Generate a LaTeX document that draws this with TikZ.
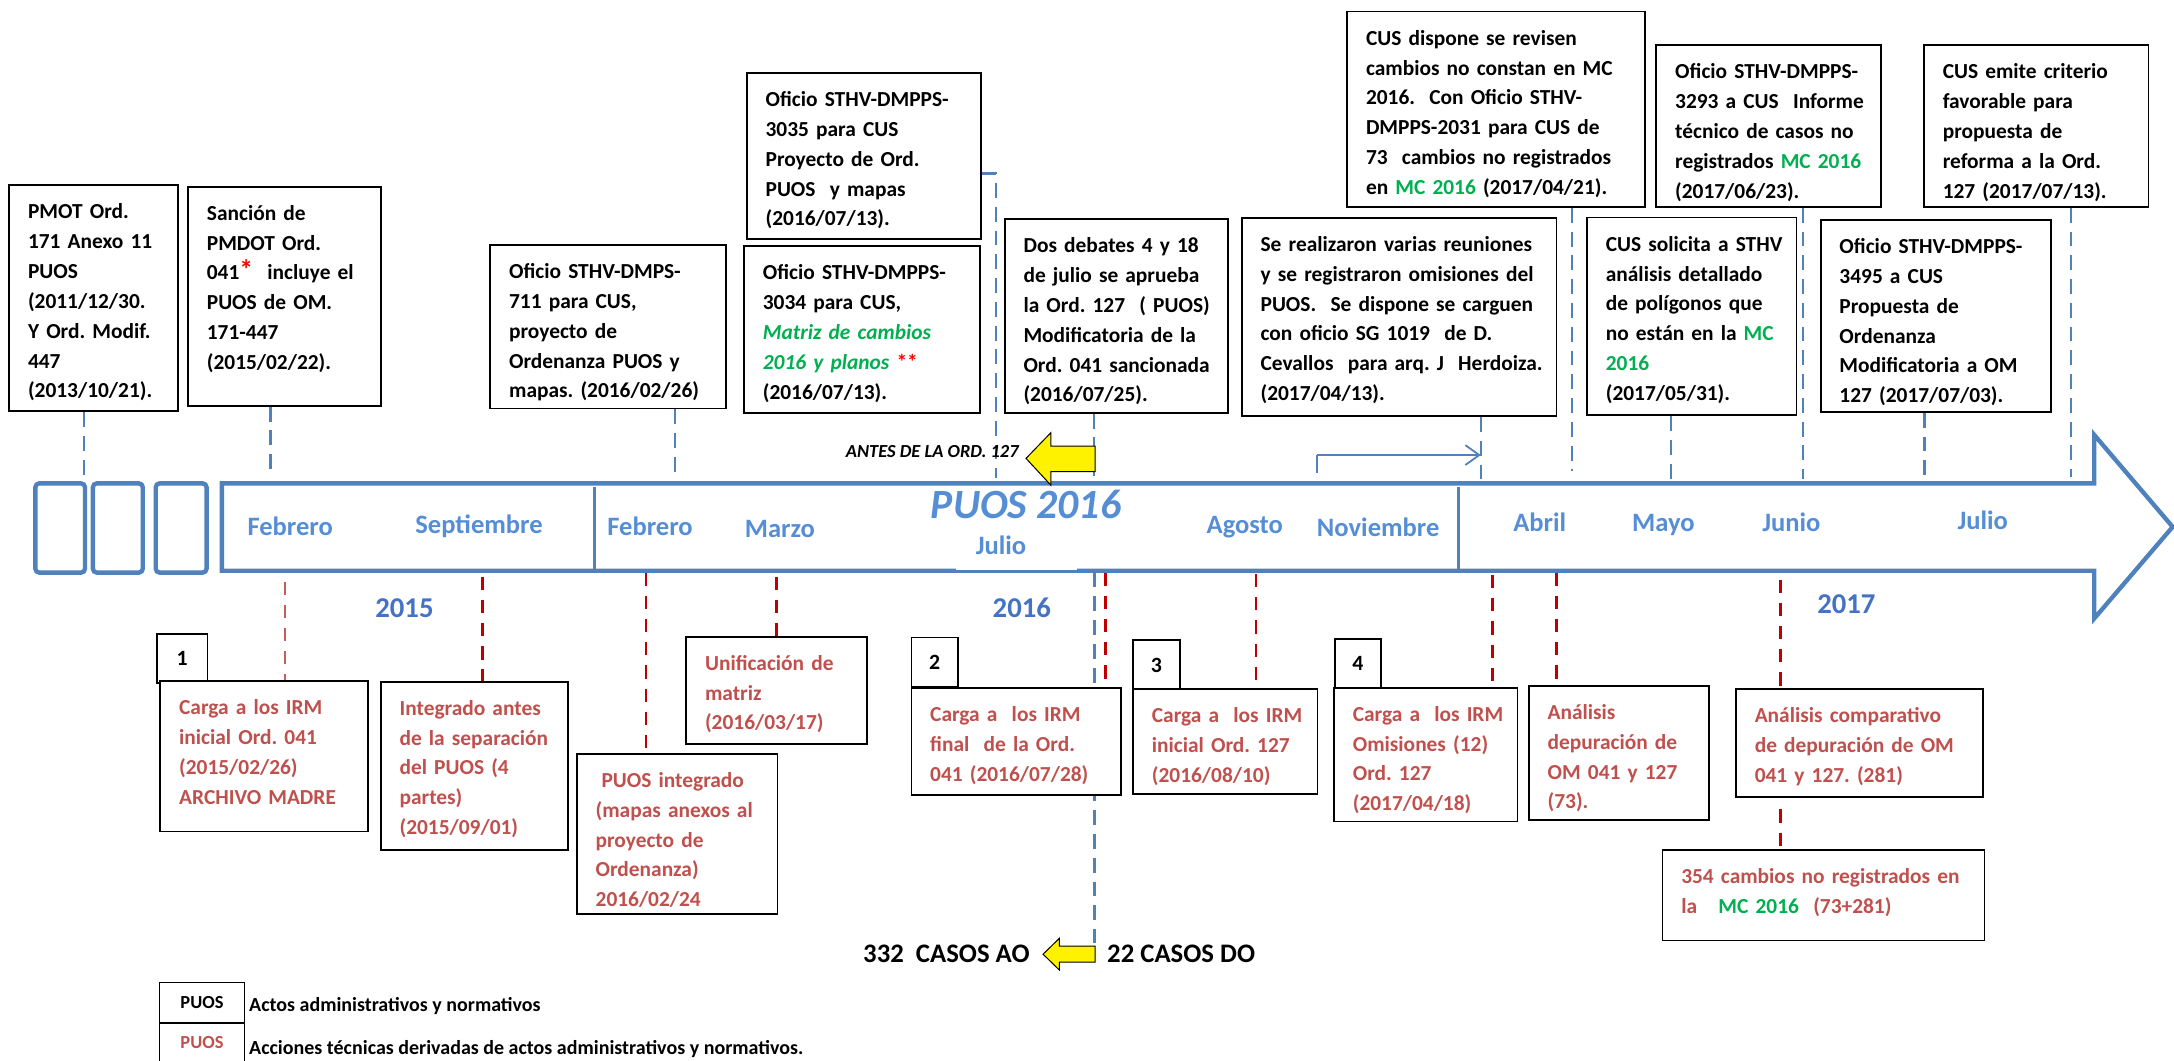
\documentclass[tikz,border=0pt]{standalone}
\usepackage{fontspec}
\setmainfont{Carlito}
\usetikzlibrary{positioning,calc,arrows.meta,backgrounds}
\frenchspacing

\definecolor{bandblue}{RGB}{79,129,189}
\definecolor{monthblue}{RGB}{85,142,213}
\definecolor{yearblue}{RGB}{68,114,196}
\definecolor{actred}{RGB}{192,80,77}
\definecolor{dashred}{RGB}{192,0,0}
\definecolor{palered}{RGB}{205,90,90}
\definecolor{mcgreen}{RGB}{0,176,80}

\newcommand{\boxfont}{\fontsize{10.8}{15.05}\selectfont\bfseries}
\newcommand{\evtext}[1]{\begin{tabular}[t]{@{}l@{}}#1\end{tabular}}
\newcommand{\mcg}[1]{\textcolor{mcgreen}{#1}}

\begin{document}
\begin{tikzpicture}[x=0.7pt,y=-0.7pt,
  evt/.style 2 args={draw=black,line width=0.9pt,fill=white,anchor=north west,
    inner xsep=9.5pt,inner ysep=6pt,text width=#1,text height=11pt,text depth=#2,font=\boxfont},
  act/.style 2 args={evt={#1}{#2},text=actred},
  numbox/.style={draw=black,line width=0.9pt,fill=white,anchor=north west,
    minimum width=23.5pt,minimum height=25pt,inner sep=0pt,font=\fontsize{11}{13}\selectfont\bfseries},
  legbox/.style={draw=black,line width=0.9pt,anchor=north west,minimum width=42.9pt,
    minimum height=20.2pt,inner sep=0pt,font=\fontsize{9.3}{11}\selectfont\bfseries},
  month/.style={anchor=base,inner sep=0pt,text=monthblue,font=\fontsize{13.4}{16}\selectfont\bfseries},
  year/.style={anchor=base,inner sep=0pt,text=yearblue,font=\fontsize{14.5}{17}\selectfont\bfseries},
  band/.style={draw=bandblue,line width=2.2pt},
  bluedash/.style={draw=bandblue,line width=1.2pt,dash pattern=on 7.5pt off 4.5pt},
  reddash/.style={draw=dashred,line width=1.3pt,dash pattern=on 6.7pt off 5pt},
  yellowarrow/.style={fill=yellow,draw=black,line width=0.5pt},
  casos/.style={anchor=base west,inner sep=0pt,font=\fontsize{13.5}{16}\selectfont\bfseries},
  legtext/.style={anchor=base west,inner sep=0pt,font=\fontsize{10.1}{12}\selectfont\bfseries}]

\useasboundingbox (0,0) rectangle (1568,765);

% drop points on the time line
\coordinate (tpmot) at (60.6,348.6);
\coordinate (tsanc) at (195,342.6);
\coordinate (t711) at (486.7,346);
\coordinate (k3035) at (718.4,125);
\coordinate (t3035) at (718.4,345);
\coordinate (tdeb) at (789,348.6);
\coordinate (treun) at (1068,348.6);
\coordinate (tcusd) at (1133.7,339.5);
\coordinate (tsol) at (1205,348.6);
\coordinate (t3293) at (1300.2,345.6);
\coordinate (t3495) at (1388,345.6);
\coordinate (temit) at (1493.7,344);

\coordinate (bc1) at (205.5,419.5);
\coordinate (bint) at (348,416);
\coordinate (bpint) at (466,413);
\coordinate (bunif) at (560,416);
\coordinate (bc2) at (797.3,413);
\coordinate (bc3) at (906,414);
\coordinate (bc4) at (1076.5,414.7);
\coordinate (bdep) at (1122.7,413);
\coordinate (bcomp) at (1284,418);
\coordinate (jdeb) at (789.3,413);
\coordinate (aotail) at (789.3,680.4);

% time line band
\draw[band] (160,348.6) -- (1510.5,348.6) -- (1510.5,313.7) -- (1567,380) -- (1510.5,446)
  -- (1510.5,411.6) -- (160,411.6) -- cycle;
\draw[band,rounded corners=2pt] (25.5,348.6) rectangle (61.3,413);
\draw[band,rounded corners=2pt] (67,348.6) rectangle (103,413);
\draw[band,rounded corners=2pt] (112.3,348.6) rectangle (149,413);
\draw[draw=bandblue,line width=1.5pt] (428.7,351) -- (428.7,411.6);
\draw[draw=bandblue,line width=1.5pt] (1052.2,351) -- (1052.2,411.6);
\fill[white] (689.5,391) rectangle (776.5,411);

% months and years
\node[month] (mfeb15) at (209.3,386) {Febrero};
\node[month] (msep15) at (345.5,385) {Septiembre};
\node[month] (mfeb16) at (468.8,386) {Febrero};
\node[month] (mmar16) at (562.5,387.5) {Marzo};
\node[month] (mjul16) at (722,400) {Julio};
\node[month] (mago16) at (897.8,385) {Agosto};
\node[month] (mnov16) at (994,387) {Noviembre};
\node[month] (mabr17) at (1110.5,383.5) {Abril};
\node[month] (mmay17) at (1199.7,383.5) {Mayo};
\node[month] (mjun17) at (1292,383.5) {Junio};
\node[month] (mjul17) at (1430,382) {Julio};
\node[anchor=base,inner sep=0pt,text=monthblue,font=\fontsize{21}{24}\selectfont\bfseries\itshape]
  (puos) at (740,374) {PUOS 2016};
\node[year] (y2015) at (291.7,445.3) {2015};
\node[year] (y2016) at (737,445) {2016};
\node[year] (y2017) at (1331.7,442.5) {2017};

% administrative and normative acts
\node[evt={66.4pt}{91.1pt}] (pmot) at (6,133) {\evtext{PMOT Ord.\\171 Anexo 11\\PUOS\\(2011/12/30.\\Y Ord. Modif.\\447\\(2013/10/21).}};
\node[evt={78.3pt}{87.6pt}] (sanc) at (135,134) {\evtext{Sanción de\\PMDOT Ord.\\041{\fontsize{14}{15}\selectfont\textcolor{red}{*}}\ \ incluye el\\PUOS de OM.\\171-447\\(2015/02/22).}};
\node[evt={100pt}{59.6pt}] (of711) at (353,176) {\evtext{Oficio STHV-DMPS-\\711 para CUS,\\proyecto de\\Ordenanza PUOS y\\mapas. (2016/02/26)}};
\node[evt={99.3pt}{61pt}] (of3035) at (538,52) {\evtext{Oficio STHV-DMPPS-\\3035 para CUS\\Proyecto de Ord.\\PUOS\ \ y mapas\\(2016/07/13).}};
\node[evt={100pt}{61pt}] (of3034) at (536,177) {\evtext{Oficio STHV-DMPPS-\\3034 para CUS,\\\mcg{\itshape Matriz de cambios}\\\mcg{\itshape 2016 y planos} \textcolor{red}{**}\\(2016/07/13).}};
\node[evt={93.7pt}{74.7pt}] (debates) at (724,157.5) {\evtext{Dos debates 4 y 18\\de julio se aprueba\\la Ord. 127\ \ ( PUOS)\\Modificatoria de la\\Ord. 041 sancionada\\(2016/07/25).}};
\node[evt={139.9pt}{77.1pt}] (reun) at (895,156.5) {\evtext{Se realizaron varias reuniones\\y se registraron omisiones del\\PUOS.\ \ Se dispone se carguen\\con oficio SG 1019\ \ de D.\\Cevallos\ \ para arq. J\ \ Herdoiza.\\(2017/04/13).}};
\node[evt={131.5pt}{75.7pt}] (cusdisp) at (971,7.7) {\evtext{CUS dispone se revisen\\cambios no constan en MC\\2016.\ \ Con Oficio STHV-\\DMPPS-2031 para CUS de\\73\ \ cambios no registrados\\en \mcg{MC 2016} (2017/04/21).}};
\node[evt={94.4pt}{58.6pt}] (of3293) at (1194,32) {\evtext{Oficio STHV-DMPPS-\\3293 a CUS\ \ Informe\\técnico de casos no\\registrados \mcg{MC 2016}\\(2017/06/23).}};
\node[evt={94.4pt}{58.6pt}] (cusemite) at (1387,32) {\evtext{CUS emite criterio\\favorable para\\propuesta de\\reforma a la Ord.\\127 (2017/07/13).}};
\node[evt={86.7pt}{76.8pt}] (cussol) at (1144,156.3) {\evtext{CUS solicita a STHV\\análisis detallado\\de polígonos que\\no están en la \mcg{MC}\\\mcg{2016}\\(2017/05/31).}};
\node[evt={97.2pt}{73.9pt}] (of3495) at (1312.5,158) {\evtext{Oficio STHV-DMPPS-\\3495 a CUS\\Propuesta de\\Ordenanza\\Modificatoria a OM\\127 (2017/07/03).}};

% technical actions
\node[numbox,minimum width=25.6pt] (n1) at (112.5,456.5) {1};
\node[act={86pt}{53pt}] (carga1) at (115,490.5) {\evtext{Carga a los IRM\\inicial Ord. 041\\(2015/02/26)\\ARCHIVO MADRE}};
\node[act={75.5pt}{62.1pt}] (integ) at (274,491) {\evtext{Integrado antes\\de la separación\\del PUOS (4\\partes)\\(2015/09/01)}};
\node[act={82.3pt}{58pt}] (puosint) at (415.4,543) {\evtext{\hspace{3pt}PUOS integrado\\(mapas anexos al\\proyecto de\\Ordenanza)\\2016/02/24}};
\node[act={72.4pt}{31.3pt}] (unif) at (494.3,458.5) {\evtext{Unificación de\\matriz\\(2016/03/17)}};
\node[numbox] (n2) at (656.7,459.2) {2};
\node[act={87pt}{30.9pt}] (carga2) at (656.7,495.7) {\evtext{Carga a\ \ los IRM\\final\ \ de la Ord.\\041 (2016/07/28)}};
\node[numbox] (n3) at (816.6,461.1) {3};
\node[act={74.1pt}{30pt}] (carga3) at (816.6,496.5) {\evtext{Carga a\ \ los IRM\\inicial Ord. 127\\(2016/08/10)}};
\node[numbox] (n4) at (962,460) {4};
\node[act={73.6pt}{44.6pt}] (carga4) at (961.5,495.3) {\evtext{Carga a\ \ los IRM\\Omisiones (12)\\Ord. 127\\(2017/04/18)}};
\node[act={72pt}{44.9pt}] (analdep) at (1102,494) {\evtext{Análisis\\depuración de\\OM 041 y 127\\(73).}};
\node[act={105.7pt}{31.2pt}] (analcomp) at (1251.4,496.5) {\evtext{Análisis comparativo\\de depuración de OM\\041 y 127. (281)}};
\node[act={143.6pt}{22.5pt}] (cambios) at (1198.4,612.6) {\evtext{354 cambios no registrados en\\la\ \ \ \mcg{MC 2016}\ \ (73+281)}};

\begin{pgfonlayer}{background}
% lines from the acts down to the time line
\draw[bluedash] (pmot.south -| tpmot) -- (tpmot);
\draw[bluedash] (sanc.south -| tsanc) -- (tsanc);
\draw[bluedash] (of711.south -| t711) -- (t711);
\draw[bluedash] (k3035 -| of3035.east) -- (k3035) -- (t3035);
\draw[bluedash] (debates.south -| tdeb) -- (tdeb);
\draw[bluedash] (reun.south -| treun) -- (treun);
\draw[bluedash] (cusdisp.south -| tcusd) -- (tcusd);
\draw[bluedash] (cussol.south -| tsol) -- (tsol);
\draw[bluedash] (of3293.south -| t3293) -- (t3293);
\draw[bluedash] (of3495.south -| t3495) -- (t3495);
\draw[bluedash] (cusemite.south -| temit) -- (temit);
\draw[bluedash] (jdeb) -- (aotail);

% lines from the time line down to the technical actions
\draw[reddash,draw=palered] (bc1) -- (bc1 |- carga1.north);
\draw[reddash] (bint) -- (bint |- integ.north);
\draw[reddash] (bpint) -- (bpint |- puosint.north);
\draw[reddash] (bunif) -- (bunif |- unif.north);
\draw[reddash] (bc2) -- (bc2 |- carga2.north);
\draw[reddash] (bc3) -- (bc3 |- carga3.north);
\draw[reddash] (bc4) -- (bc4 |- carga4.north);
\draw[reddash] (bdep) -- (bdep |- analdep.north);
\draw[reddash] (bcomp) -- (bcomp |- analcomp.north);
\draw[reddash,shorten <=6pt] (bcomp |- analcomp.south) -- (bcomp |- cambios.north);
\end{pgfonlayer}

% before / after the Ord. 127
\coordinate (rstart) at (949.7,328.2);
\coordinate (rtick) at (949.7,341);
\draw[draw=bandblue,line width=0.9pt,-{Straight Barb[length=7pt,width=10pt]}] (rstart) -- (rstart -| treun);
\draw[draw=bandblue,line width=0.9pt] (rtick) -- (rtick |- rstart);
\draw[yellowarrow] (740,330.6) -- (758,312) -- (758,321.7) -- (789.8,321.7) -- (789.8,340.2)
  -- (758,340.2) -- (758,350) -- cycle;
\node[anchor=base east,inner sep=0pt,font=\fontsize{9.3}{11}\selectfont\bfseries\itshape]
  (antes) at (735,330) {ANTES DE LA ORD. 127};
\draw[yellowarrow] (752.3,688.2) -- (764,676.8) -- (764,682.3) -- (789.8,682.3) -- (789.8,694)
  -- (764,694) -- (764,699.6) -- cycle;
\node[casos] (ao) at (622.3,694.3) {332\ \ CASOS AO};
\node[casos] (do) at (798.3,694.3) {22 CASOS DO};

% legend
\node[legbox] (leg1) at (114.4,708) {PUOS};
\node[legbox,text=actred,minimum height=19.7pt] (leg2) at (114.4,736.9) {PUOS};
\node[legtext] (legtxt1) at (179.4,729.5) {Actos administrativos y normativos};
\node[legtext] (legtxt2) at (179.4,760.6) {Acciones técnicas derivadas de actos administrativos y normativos.};

\end{tikzpicture}
\end{document}
